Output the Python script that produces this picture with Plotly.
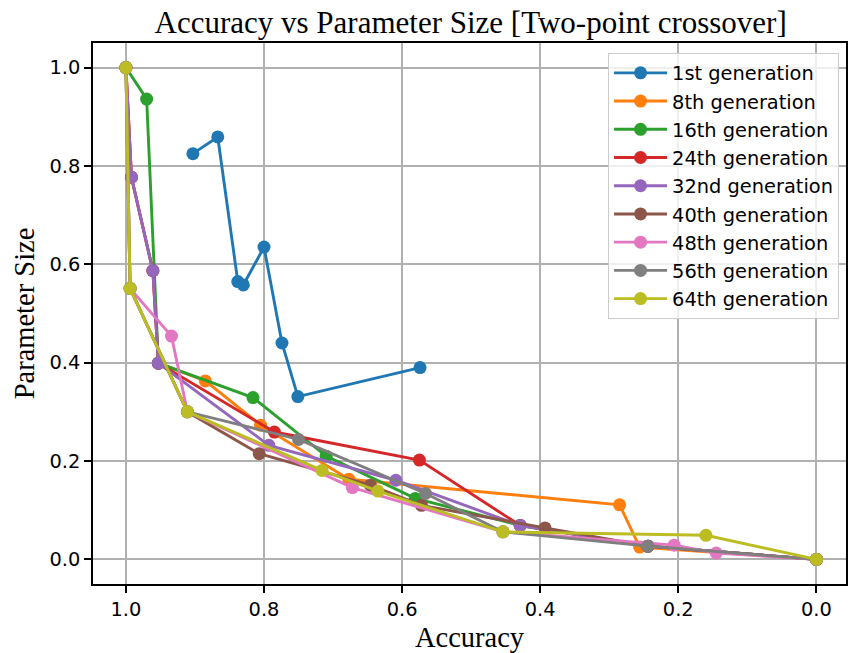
import plotly.graph_objects as go

# Pareto fronts (accuracy, normalised parameter size) per generation
gen_names = ["1st generation", "8th generation", "16th generation", "24th generation",
             "32nd generation", "40th generation", "48th generation", "56th generation",
             "64th generation"]

acc_1 = [0.903, 0.867, 0.838, 0.830, 0.800, 0.774, 0.751, 0.574]
size_1 = [0.825, 0.859, 0.565, 0.558, 0.635, 0.440, 0.331, 0.390]

acc_8 = [1.0, 0.992, 0.961, 0.953, 0.885, 0.805, 0.677, 0.285, 0.256, 0.0]
size_8 = [1.0, 0.777, 0.587, 0.399, 0.363, 0.273, 0.163, 0.111, 0.025, 0.0]

acc_16 = [1.0, 0.970, 0.953, 0.816, 0.710, 0.581, 0.429, 0.244, 0.0]
size_16 = [1.0, 0.936, 0.399, 0.329, 0.210, 0.124, 0.069, 0.027, 0.0]

acc_24 = [1.0, 0.992, 0.961, 0.953, 0.785, 0.575, 0.429, 0.244, 0.0]
size_24 = [1.0, 0.777, 0.587, 0.399, 0.259, 0.202, 0.069, 0.027, 0.0]

acc_32 = [1.0, 0.992, 0.961, 0.953, 0.793, 0.609, 0.429, 0.244, 0.0]
size_32 = [1.0, 0.777, 0.587, 0.399, 0.232, 0.161, 0.069, 0.027, 0.0]

acc_40 = [1.0, 0.994, 0.911, 0.807, 0.646, 0.572, 0.393, 0.244, 0.0]
size_40 = [1.0, 0.551, 0.300, 0.215, 0.151, 0.110, 0.064, 0.027, 0.0]

acc_48 = [1.0, 0.994, 0.934, 0.911, 0.672, 0.454, 0.206, 0.145, 0.0]
size_48 = [1.0, 0.551, 0.454, 0.300, 0.146, 0.056, 0.029, 0.013, 0.0]

acc_56 = [1.0, 0.994, 0.911, 0.750, 0.566, 0.454, 0.244, 0.0]
size_56 = [1.0, 0.551, 0.300, 0.244, 0.134, 0.056, 0.027, 0.0]

acc_64 = [1.0, 0.994, 0.911, 0.716, 0.635, 0.454, 0.160, 0.0]
size_64 = [1.0, 0.551, 0.300, 0.181, 0.139, 0.056, 0.049, 0.0]

tick_vals = [0.0, 0.2, 0.4, 0.6, 0.8, 1.0]
tick_text = ["0.0", "0.2", "0.4", "0.6", "0.8", "1.0"]

colors = ["#1f77b4", "#ff7f0e", "#2ca02c", "#d62728", "#9467bd",
          "#8c564b", "#e377c2", "#7f7f7f", "#bcbd22"]

series = [(acc_1, size_1), (acc_8, size_8), (acc_16, size_16), (acc_24, size_24),
          (acc_32, size_32), (acc_40, size_40), (acc_48, size_48), (acc_56, size_56),
          (acc_64, size_64)]

fig = go.Figure()
for name, (xs, ys), c in zip(gen_names, series, colors):
    fig.add_trace(go.Scatter(
        x=xs, y=ys, name=name, legendgroup=name, mode="lines+markers",
        line=dict(color=c, width=2.9),
        marker=dict(color=c, size=13),
    ))

axis_common = dict(
    showgrid=True, gridcolor="#b0b0b0", gridwidth=1.5,
    showline=True, linecolor="black", linewidth=1.5, mirror=True,
    ticks="outside", ticklen=7, tickwidth=1.5, tickcolor="black",
    tickvals=tick_vals, ticktext=tick_text,
    tickfont=dict(family="DejaVu Sans", size=19.4, color="black"),
    zeroline=False,
)

fig.update_layout(
    width=848, height=653,
    margin=dict(l=93, r=0, t=43, b=69),
    paper_bgcolor="white", plot_bgcolor="white",
    title=dict(text="Accuracy vs Parameter Size [Two-point crossover]",
               font=dict(family="Liberation Serif", size=31, color="black"),
               x=0.555, xanchor="center", y=0.966, yanchor="middle"),
    xaxis=dict(axis_common, range=[1.0477, -0.0429],
               title=dict(text="Accuracy", standoff=7,
                          font=dict(family="Liberation Serif", size=28.5, color="black"))),
    yaxis=dict(axis_common, range=[-0.05, 1.05],
               title=dict(text="Parameter Size", standoff=7,
                          font=dict(family="Liberation Serif", size=28.5, color="black"))),
    legend=dict(x=0.684, y=0.982, xanchor="left", yanchor="top",
                bgcolor="rgba(255,255,255,0.8)", bordercolor="#cccccc", borderwidth=1,
                font=dict(family="DejaVu Sans", size=19.4, color="black"),
                itemwidth=53, tracegroupgap=0),
    showlegend=True,
)

fig.write_html("out.html")
